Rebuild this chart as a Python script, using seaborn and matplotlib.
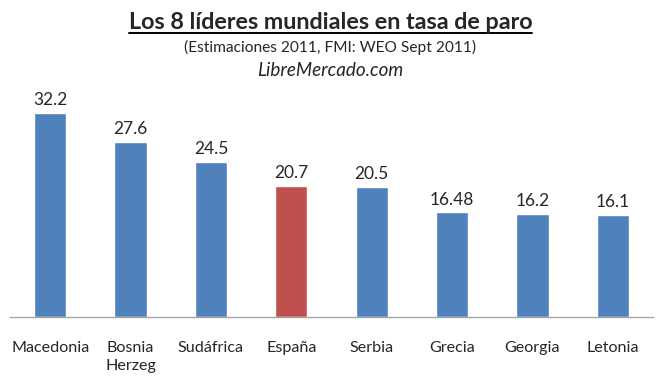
import matplotlib
matplotlib.use("Agg")
import matplotlib.pyplot as plt
import seaborn as sns
import pandas as pd
from matplotlib.lines import Line2D

paises = ["Macedonia", "Bosnia\nHerzeg", "Sudáfrica", "España", "Serbia",
          "Grecia", "Georgia", "Letonia"]
paro = [32.2, 27.6, 24.5, 20.7, 20.5, 16.48, 16.2, 16.1]
etiquetas = ["32.2", "27.6", "24.5", "20.7", "20.5", "16.48", "16.2", "16.1"]

azul = "#4F81BD"
rojo = "#C0504D"
colores = [rojo if p == "España" else azul for p in paises]

sns.set_style("white")
plt.rcParams["font.family"] = ["Lato", "DejaVu Sans"]

df = pd.DataFrame({"pais": paises, "paro": paro})

fig = plt.figure(figsize=(6.61, 3.77), dpi=100)
ax = fig.add_axes([10 / 661, 60 / 377, 643 / 661, 222 / 377])

sns.barplot(data=df, x="pais", y="paro", hue="pais", palette=colores,
            legend=False, width=0.4, ax=ax, saturation=1)

ax.set_ylim(0, 35)
ax.set_xlim(-0.5, len(paises) - 0.5)
ax.set_xlabel("")
ax.set_ylabel("")
ax.set_yticks([])
for s in ["top", "right", "left"]:
    ax.spines[s].set_visible(False)
ax.spines["bottom"].set_color("#A6A6A6")
ax.spines["bottom"].set_linewidth(1)
ax.tick_params(axis="x", length=0, pad=17, labelsize=11.6)
for lab in ax.get_xticklabels():
    lab.set_verticalalignment("top")
    lab.set_linespacing(1.4)

for i, (v, t) in enumerate(zip(paro, etiquetas)):
    ax.text(i, v + 1.25, t, ha="center", va="baseline", fontsize=12.5)

titulo = fig.text(0.5, 1 - 29 / 377, "Los 8 líderes mundiales en tasa de paro",
                  ha="center", va="baseline", fontsize=16.8, fontweight="bold")
fig.text(0.5, 1 - 52 / 377, "(Estimaciones 2011, FMI: WEO Sept 2011)",
         ha="center", va="baseline", fontsize=11.2)
fig.text(0.5, 1 - 76 / 377, "LibreMercado.com", ha="center", va="baseline",
         fontsize=13.6, style="italic")

# subrayado del titulo
fig.canvas.draw()
bb = titulo.get_window_extent().transformed(fig.transFigure.inverted())
y_sub = 1 - 32.5 / 377
fig.add_artist(Line2D([bb.x0, bb.x1], [y_sub, y_sub],
                      transform=fig.transFigure, color="black", lw=1.4))

fig.savefig("out.png", dpi=100)
